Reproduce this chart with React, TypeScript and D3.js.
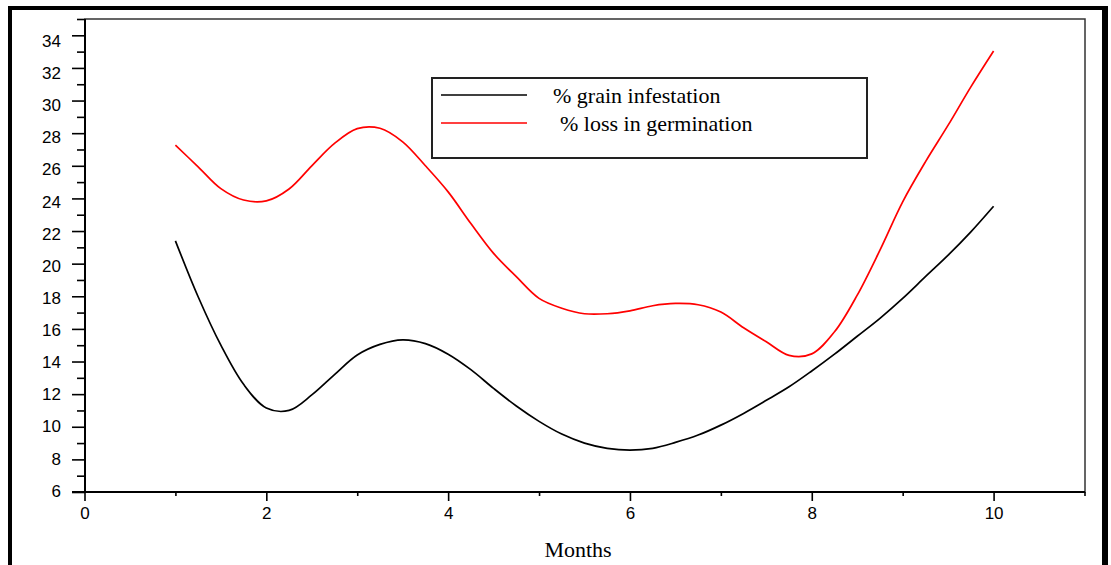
import React, { useRef, useEffect } from 'react'
import * as d3 from 'd3'

const months = [
  1, 1.25, 1.5, 1.75, 2, 2.25, 2.5, 2.75, 3, 3.25, 3.5, 3.75, 4, 4.25, 4.5, 4.75, 5, 5.25, 5.5,
  5.75, 6, 6.25, 6.5, 6.75, 7, 7.25, 7.5, 7.75, 8, 8.25, 8.5, 8.75, 9, 9.25, 9.5, 9.75, 10,
]
const grainInfestation = [
  21.4, 17.97, 15.0, 12.6, 11.15, 11.0, 11.95, 13.2, 14.4, 15.05, 15.33, 15.1, 14.45, 13.5, 12.35,
  11.27, 10.33, 9.55, 9.0, 8.68, 8.57, 8.68, 9.04, 9.49, 10.1, 10.82, 11.62, 12.45, 13.42, 14.45,
  15.55, 16.65, 17.87, 19.2, 20.52, 21.95, 23.52,
]
const germinationLoss = [
  27.26, 25.94, 24.6, 23.9, 23.85, 24.58, 26.0, 27.37, 28.28, 28.3, 27.47, 26.0, 24.4, 22.46,
  20.63, 19.2, 17.87, 17.27, 16.93, 16.93, 17.11, 17.42, 17.56, 17.48, 17.03, 16.07, 15.21, 14.38,
  14.47, 15.82, 18.07, 20.83, 23.79, 26.24, 28.49, 30.84, 33.04,
]
const seriesNames = ['% grain infestation', '% loss in germination']
const seriesColors = ['#000000', '#ff0000']
const yMajorTicks = [6, 8, 10, 12, 14, 16, 18, 20, 22, 24, 26, 28, 30, 32, 34]
const yMinorTicks = [7, 9, 11, 13, 15, 17, 19, 21, 23, 25, 27, 29, 31, 33, 35]
const xMajorTicks = [0, 2, 4, 6, 8, 10]
const xMinorTicks = [1, 3, 5, 7, 9, 11]

const W = 1111
const H = 565
const left = 85
const right = 1085
const top = 19
const bottom = 492

const App = () => {
  const svgRef = useRef<SVGSVGElement>(null)

  useEffect(() => {
    const svg = d3.select(svgRef.current)
    svg.selectAll('*').remove()

    const x = d3.scaleLinear().domain([0, 11]).range([left - 0.5, right - 0.5])
    const y = d3.scaleLinear().domain([6, 35]).range([bottom, top])

    // outer frame
    svg
      .append('rect')
      .attr('x', 10)
      .attr('y', 8)
      .attr('width', 1094)
      .attr('height', 620)
      .attr('fill', 'none')
      .attr('stroke', '#000')
      .attr('stroke-width', 4)
    svg
      .append('line')
      .attr('x1', 1106)
      .attr('x2', 1106)
      .attr('y1', 6)
      .attr('y2', H)
      .attr('stroke', '#000')
      .attr('stroke-width', 4)

    // plot box
    svg
      .append('rect')
      .attr('x', left)
      .attr('y', top)
      .attr('width', right - left)
      .attr('height', bottom - top)
      .attr('fill', 'none')
      .attr('stroke', '#333')
      .attr('stroke-width', 1.5)

    const font = 'Liberation Sans, Arial, sans-serif'

    // y axis
    const yMajor = svg
      .append('g')
      .attr('transform', `translate(${left},0)`)
      .call(d3.axisLeft(y).tickValues(yMajorTicks).tickSize(13).tickPadding(11).tickFormat(d3.format('d')))
    yMajor.select('.domain').remove()
    yMajor.selectAll('line').attr('stroke', '#000').attr('stroke-width', 1.6)
    // labels drift a little below their ticks towards the top, as in the original
    yMajor
      .selectAll<SVGTextElement, number>('text')
      .attr('font-family', font)
      .attr('font-size', 17)
      .attr('fill', '#000')
      .attr('dy', '0.36em')
      .attr('y', (d) => -2 + (d - 6) * 0.25)

    const yMinor = svg
      .append('g')
      .attr('transform', `translate(${left},0)`)
      .call(d3.axisLeft(y).tickValues(yMinorTicks).tickSize(8).tickFormat(() => ''))
    yMinor.select('.domain').remove()
    yMinor.selectAll('line').attr('stroke', '#000').attr('stroke-width', 1.6)

    // x axis
    const xMajor = svg
      .append('g')
      .attr('transform', `translate(0,${bottom})`)
      .call(d3.axisBottom(x).tickValues(xMajorTicks).tickSize(9).tickPadding(6).tickFormat(d3.format('d')))
    xMajor.select('.domain').remove()
    xMajor.selectAll('line').attr('stroke', '#000').attr('stroke-width', 1.6)
    xMajor
      .selectAll('text')
      .attr('font-family', font)
      .attr('font-size', 17)
      .attr('fill', '#000')

    const xMinor = svg
      .append('g')
      .attr('transform', `translate(0,${bottom})`)
      .call(d3.axisBottom(x).tickValues(xMinorTicks).tickSize(4).tickFormat(() => ''))
    xMinor.select('.domain').remove()
    xMinor.selectAll('line').attr('stroke', '#000').attr('stroke-width', 1.6)

    // axis lines
    svg
      .append('line')
      .attr('x1', left)
      .attr('x2', left)
      .attr('y1', top)
      .attr('y2', bottom)
      .attr('stroke', '#000')
      .attr('stroke-width', 2)
    svg
      .append('line')
      .attr('x1', left - 13)
      .attr('x2', right)
      .attr('y1', bottom)
      .attr('y2', bottom)
      .attr('stroke', '#000')
      .attr('stroke-width', 2)

    svg
      .append('text')
      .attr('x', 578)
      .attr('y', 557)
      .attr('text-anchor', 'middle')
      .attr('font-family', 'Liberation Serif, Times New Roman, serif')
      .attr('font-size', 22)
      .text('Months')

    // curves
    const line = d3
      .line<number>()
      .x((_, i) => x(months[i]))
      .y((d) => y(d))
      .curve(d3.curveCatmullRom.alpha(0.5))

    ;[grainInfestation, germinationLoss].forEach((values, i) => {
      svg
        .append('path')
        .datum(values)
        .attr('d', line)
        .attr('fill', 'none')
        .attr('stroke', seriesColors[i])
        .attr('stroke-width', 1.7)
    })

    // legend
    const legend = svg.append('g')
    legend
      .append('rect')
      .attr('x', 432)
      .attr('y', 78)
      .attr('width', 435)
      .attr('height', 80)
      .attr('fill', '#fff')
      .attr('stroke', '#222')
      .attr('stroke-width', 2)
    const legendY = [95, 123]
    const legendTextX = [553, 560]
    seriesNames.forEach((name, i) => {
      legend
        .append('line')
        .attr('x1', 441)
        .attr('x2', 527)
        .attr('y1', legendY[i])
        .attr('y2', legendY[i])
        .attr('stroke', seriesColors[i])
        .attr('stroke-width', 1.7)
      legend
        .append('text')
        .attr('x', legendTextX[i])
        .attr('y', legendY[i] + 8)
        .attr('font-family', 'Liberation Serif, Times New Roman, serif')
        .attr('font-size', 22)
        .attr('fill', '#000')
        .text(name)
    })
  }, [])

  return (
    <svg
      ref={svgRef}
      width={W}
      height={H}
      style={{ position: 'absolute', left: 0, top: 0, background: '#fff' }}
    />
  )
}

export default App
